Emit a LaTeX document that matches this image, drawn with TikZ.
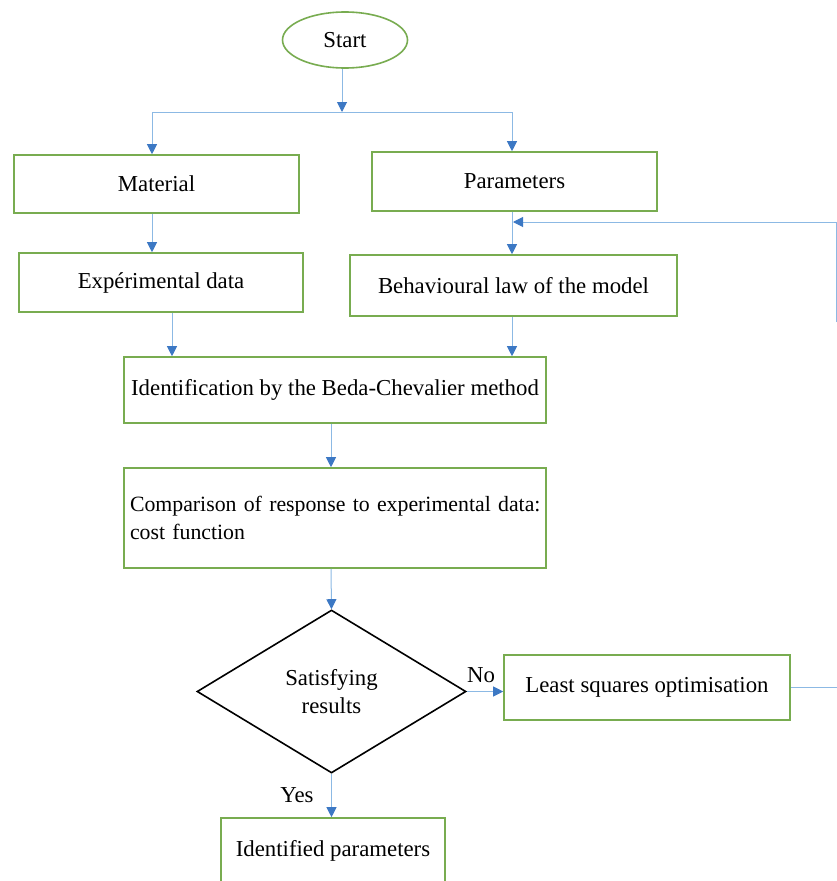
\documentclass[tikz,border=0pt]{standalone}
\usepackage{fontspec}
\setmainfont{Liberation Serif}
\usetikzlibrary{arrows.meta,shapes.geometric}
\definecolor{boxgreen}{RGB}{120,172,80}
\definecolor{linkblue}{RGB}{140,185,228}
\definecolor{tipblue}{RGB}{60,120,196}

\begin{document}
\begin{tikzpicture}[x=1pt,y=-1pt,
    every node/.style={font=\fontsize{22.8}{28}\selectfont},
    box/.style={draw=boxgreen, line width=1.6pt, rectangle, inner sep=0pt},
    link/.style={draw=linkblue, line width=1pt},
    arr/.style={link, -{Triangle[width=10pt,length=10pt,color=tipblue]}}]
    \clip (0,0) rectangle (837,881);
    \fill[white] (0,0) rectangle (837,881);
    % nodes
    \node[box, ellipse, minimum width=125pt, minimum height=56pt] (start) at (345,40) {Start};
    \node[box, minimum width=285pt, minimum height=58pt] (material) at (156.5,184) {Material};
    \node[box, minimum width=285pt, minimum height=59pt] (params) at (514.5,181.5) {Parameters};
    \node[box, minimum width=284pt, minimum height=59pt] (expdata) at (161,282.5) {Expérimental data};
    \node[box, minimum width=327pt, minimum height=61pt] (behav) at (513.5,285.5) {Behavioural law of the model};
    \node[box, minimum width=422pt, minimum height=66pt] (ident) at (335,390) {Identification by the Beda-Chevalier method};
    \node[box, minimum width=422pt, minimum height=100pt, inner xsep=6pt, text width=410pt, align=left,
        font=\fontsize{21.8}{28}\selectfont] (compar) at (335,518)
        {\mbox{Comparison of response to experimental data:}\\cost function};
    \node[draw=black, line width=1.6pt, diamond, aspect=1.65, minimum width=269pt, minimum height=163pt, inner sep=0pt,
        align=center] (satis) at (331.5,691.5) {Satisfying\\results};
    \node[box, minimum width=286pt, minimum height=65pt] (lsq) at (647,687.5) {Least squares optimisation};
    \node[box, minimum width=224pt, minimum height=66pt] (idpar) at (333,851) {Identified parameters};
    \node (no) at (481,675) {No};
    \node (yes) at (297,795) {Yes};
    \coordinate (split) at (342,112);
    \coordinate (loopin) at (513,222);
    \coordinate (looptop) at (836,222);
    \coordinate (loopbot) at (836,322);
    \coordinate (loopout) at (837,686);
    % connectors
    \draw[arr] (start.south -| split) -- (split);
    \draw[link] ([xshift=-4.5pt]material.north |- split) -- ([xshift=-2.5pt]params.north |- split);
    \draw[arr] ([xshift=-4.5pt]material.north |- split) -- ([xshift=-4.5pt]material.north);
    \draw[arr] ([xshift=-2.5pt]params.north |- split) -- ([xshift=-2.5pt]params.north);
    \draw[arr] ([xshift=-4.5pt]material.south) -- ([xshift=-4.5pt]material.south |- expdata.north);
    \draw[arr] ([xshift=-2.5pt]params.south) -- ([xshift=-2.5pt]params.south |- behav.north);
    \draw[arr] (loopbot) -- (looptop) -- (loopin);
    \draw[link] (lsq.east) -- (lsq.east -| loopout);
    \draw[arr] ([xshift=11pt]expdata.south) -- ([xshift=11pt]expdata.south |- ident.north);
    \draw[arr] ([xshift=-1.5pt]behav.south) -- ([xshift=-1.5pt]behav.south |- ident.north);
    \draw[arr] ([xshift=-4pt]ident.south) -- ([xshift=-4pt]ident.south |- compar.north);
    \draw[arr] ([xshift=-4pt]compar.south) -- (satis.north);
    \draw[arr] (satis.east) -- (satis.east -| lsq.west);
    \draw[arr] (satis.south) -- (satis.south |- idpar.north);
\end{tikzpicture}
\end{document}
